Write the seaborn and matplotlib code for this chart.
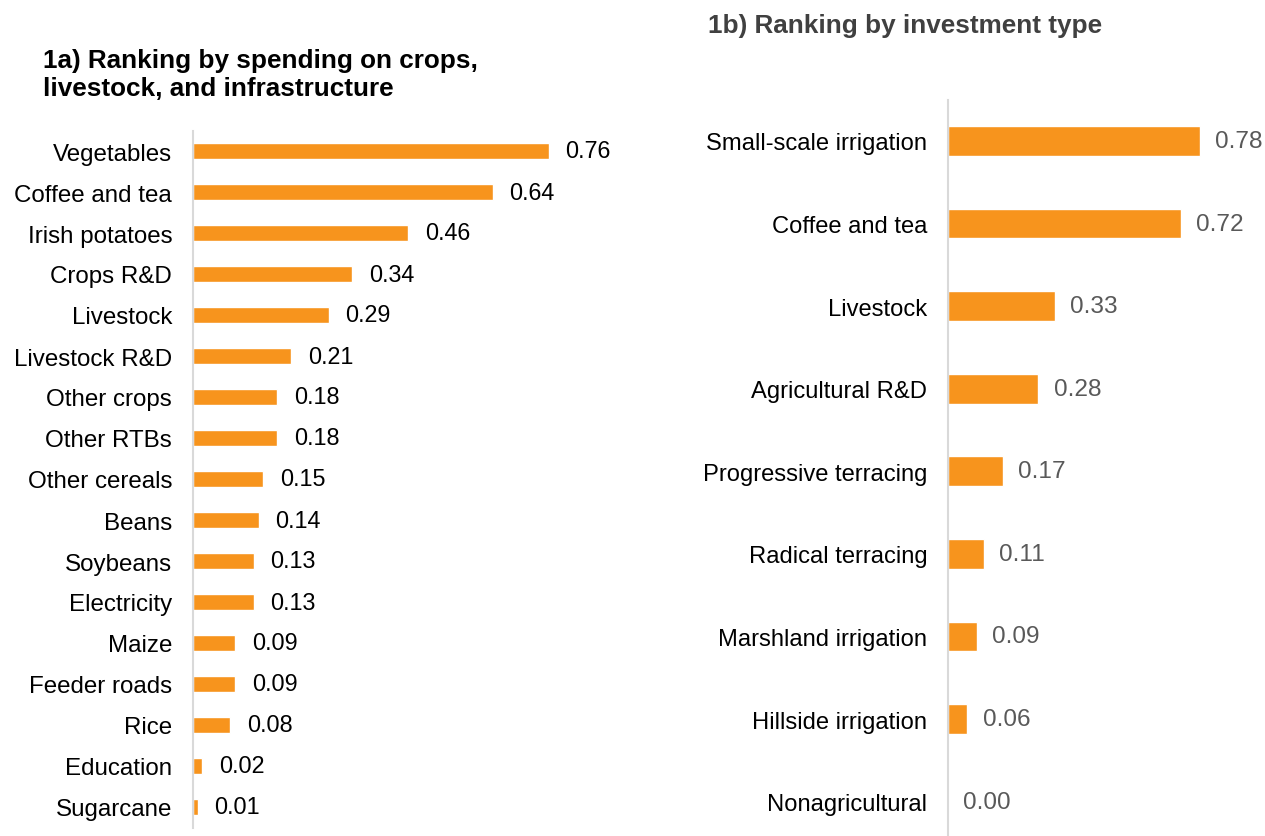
import matplotlib
matplotlib.use("Agg")
import matplotlib.pyplot as plt
import seaborn as sns
import pandas as pd

sns.set_theme(style="white")
plt.rcParams['font.family'] = ['Liberation Sans', 'DejaVu Sans']

left_categories = ["Vegetables", "Coffee and tea", "Irish potatoes", "Crops R&D", "Livestock",
                   "Livestock R&D", "Other crops", "Other RTBs", "Other cereals", "Beans",
                   "Soybeans", "Electricity", "Maize", "Feeder roads", "Rice", "Education",
                   "Sugarcane"]
left_values = [0.76, 0.64, 0.46, 0.34, 0.29, 0.21, 0.18, 0.18, 0.15, 0.14, 0.13, 0.13,
               0.09, 0.09, 0.08, 0.02, 0.01]

right_categories = ["Small-scale irrigation", "Coffee and tea", "Livestock", "Agricultural R&D",
                    "Progressive terracing", "Radical terracing", "Marshland irrigation",
                    "Hillside irrigation", "Nonagricultural"]
right_values = [0.78, 0.72, 0.33, 0.28, 0.17, 0.11, 0.09, 0.06, 0.00]

left_title = "1a) Ranking by spending on crops,\nlivestock, and infrastructure"
right_title = "1b) Ranking by investment type"

ORANGE = "#F7941D"
W, H = 1265, 837
fig = plt.figure(figsize=(W / 100, H / 100), dpi=100)

# left panel
axL = fig.add_axes([193 / W, 1 - 828.5 / H, 0.9 * 468 / W, 697 / H])
dfL = pd.DataFrame({"cat": left_categories, "val": left_values})
sns.barplot(data=dfL, x="val", y="cat", ax=axL, color=ORANGE, width=0.4,
            saturation=1, orient="h")
axL.set_xlim(0, 0.9)
axL.set_ylim(16.5, -0.5)
for c in axL.containers:
    axL.bar_label(c, labels=[f"{v:.2f}" for v in left_values], padding=12,
                  fontsize=16.8, color="#000000")
axL.tick_params(axis="y", length=0, pad=15, labelsize=17.4, labelcolor="#000000")

# right panel
axR = fig.add_axes([948 / W, 1 - 835.7 / H, 0.9 * 323 / W, 735 / H])
dfR = pd.DataFrame({"cat": right_categories, "val": right_values})
sns.barplot(data=dfR, x="val", y="cat", ax=axR, color=ORANGE, width=0.36,
            saturation=1, orient="h")
axR.set_xlim(0, 0.9)
axR.set_ylim(8.4, -0.5)
for c in axR.containers:
    axR.bar_label(c, labels=[f"{v:.2f}" for v in right_values], padding=11,
                  fontsize=17.6, color="#595959")
axR.tick_params(axis="y", length=0, pad=15, labelsize=17.1, labelcolor="#000000")

for ax in (axL, axR):
    ax.set_xlabel("")
    ax.set_ylabel("")
    ax.set_xticks([])
    for s in ("top", "right", "bottom"):
        ax.spines[s].set_visible(False)
    ax.spines["left"].set_color("#D9D9D9")
    ax.spines["left"].set_linewidth(1.5)
    ax.set_facecolor("none")

fig.text(43 / W, 1 - 49 / H, left_title, fontsize=18.8, fontweight="bold",
         color="#000000", ha="left", va="top", linespacing=1.2)
fig.text(708 / W, 1 - 14 / H, right_title, fontsize=18.8, fontweight="bold",
         color="#404040", ha="left", va="top")

fig.savefig("out.png", dpi=100)
